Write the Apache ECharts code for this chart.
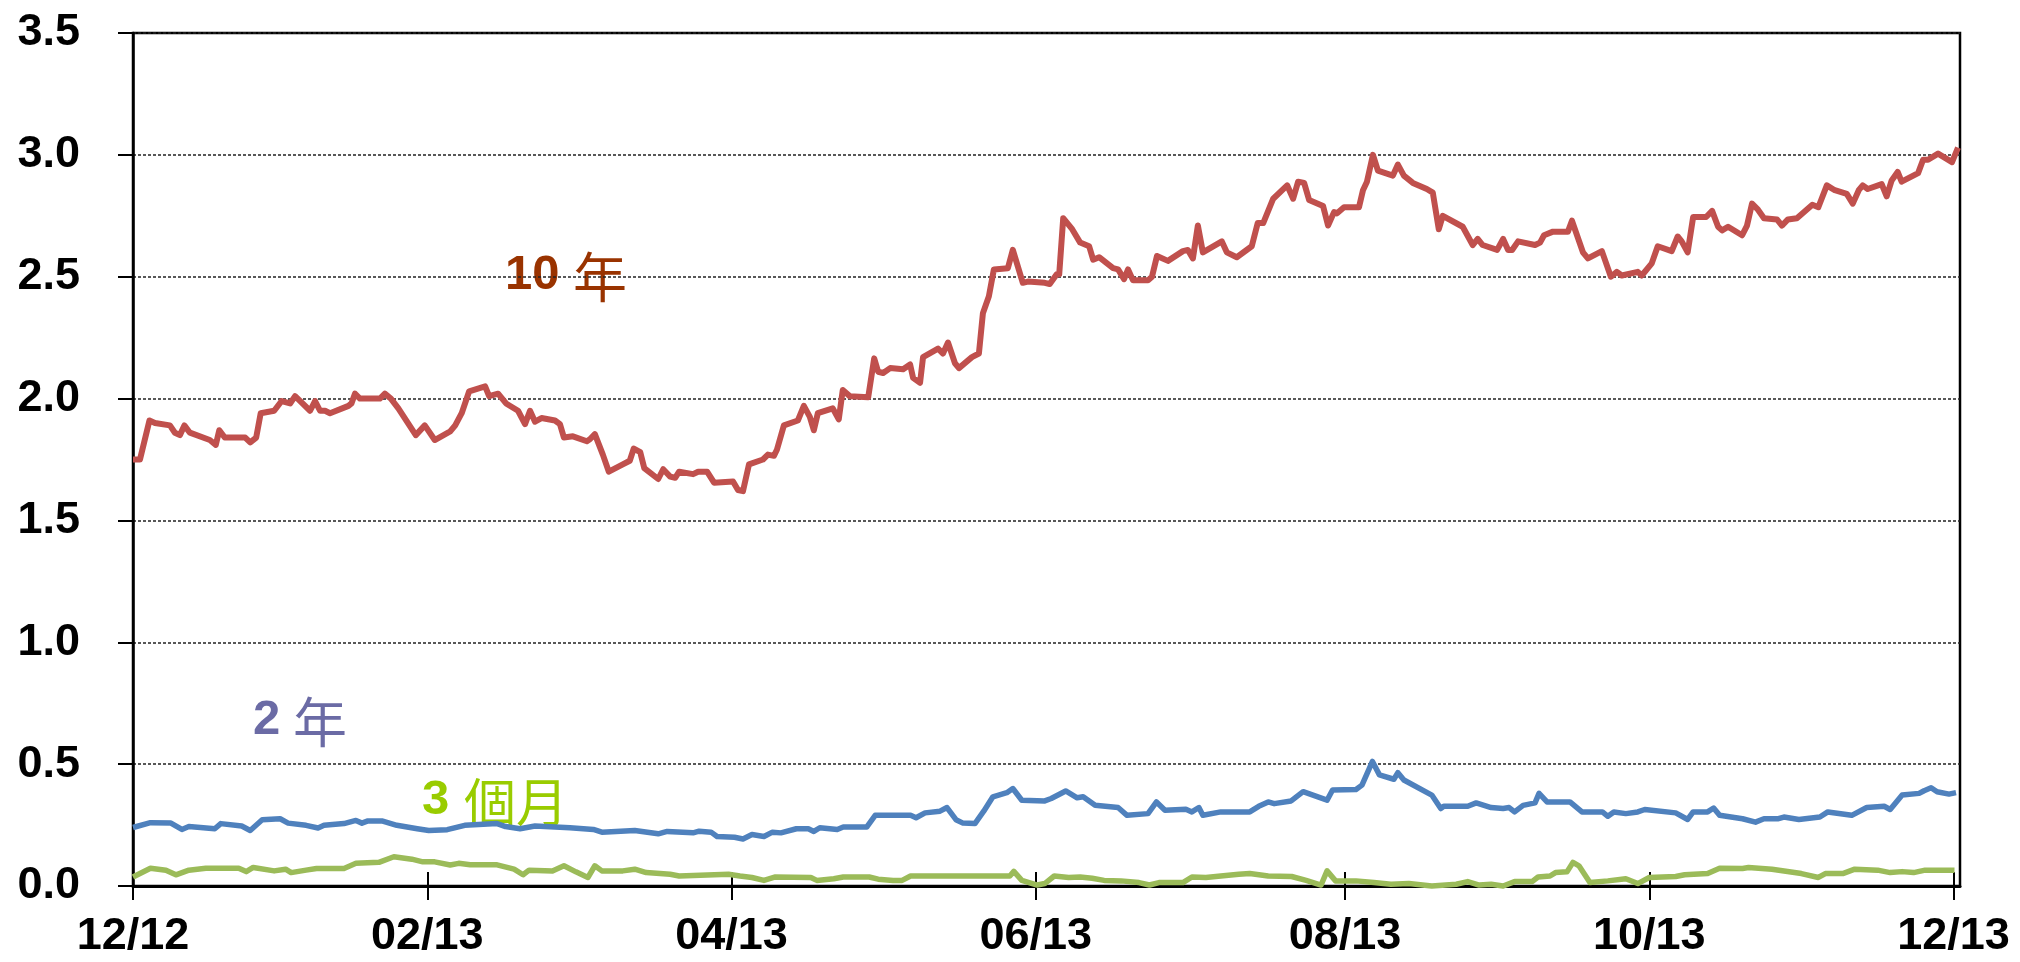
<!DOCTYPE html>
<html>
<head>
<meta charset="utf-8">
<title>US Treasury yields 2013</title>
<script src="https://cdn.jsdelivr.net/npm/echarts@6.0.0/dist/echarts.min.js"></script>
<style>
html, body { margin: 0; padding: 0; background: #fff; }
#chart { width: 2020px; height: 962px; }
</style>
</head>
<body>
<div id="chart"></div>
<script>
// x values are days after 2012-12-31
var tickLabels = ['12/12', '02/13', '04/13', '06/13', '08/13', '10/13', '12/13'];
var tickDays = [0, 59, 120, 181, 243, 304, 365];

var days10y = [
  0, 1.4, 3.3, 4.4, 7.4, 8.4, 9.4, 10.3, 11.4, 15.4,
  16.6, 17.3, 18.4, 22.5, 23.5, 24.7, 25.6, 28.3, 29.8, 31.5,
  32.5, 35.5, 36.5, 37.5, 38.5, 39.5, 43.2, 43.8, 44.5, 45.5,
  49.5, 50.5, 51.7, 53.2, 56.7, 58.5, 60.5, 63.6, 64.6, 65.9,
  67.4, 70.6, 71.4, 73.2, 74.8, 77.2, 78.6, 79.6, 80.6, 81.9,
  84.6, 85.6, 86.4, 88.2, 91.0, 91.6, 92.6, 94.2, 95.4, 98.2,
  99.6, 100.4, 101.7, 102.5, 105.3, 106.3, 107.7, 108.7, 109.5, 112.3,
  113.3, 115.1, 116.5, 120.3, 121.3, 122.3, 123.5, 126.3, 127.3, 128.5,
  129.1, 130.5, 133.3, 134.5, 135.7, 136.5, 137.3, 140.3, 141.5, 142.3,
  143.7, 147.4, 148.6, 149.4, 150.4, 151.8, 154.4, 155.8, 156.4, 157.8,
  158.4, 161.4, 162.4, 163.4, 164.8, 165.6, 168.2, 169.6, 170.4, 171.6,
  172.6, 175.4, 176.4, 178.4, 179.4, 182.8, 183.8, 185.2, 185.7, 186.5,
  188.3, 189.9, 191.7, 192.5, 193.7, 196.5, 197.5, 198.7, 199.5, 200.5,
  203.5, 204.3, 205.3, 207.5, 210.5, 211.5, 212.5, 213.5, 214.5, 218.3,
  219.3, 221.3, 224.3, 225.5, 226.6, 228.6, 231.4, 232.6, 233.6, 234.8,
  235.8, 238.6, 239.6, 240.8, 241.4, 242.8, 245.8, 246.6, 247.4, 248.6,
  249.6, 252.6, 253.6, 254.8, 256.6, 259.4, 260.6, 261.8, 262.6, 266.6,
  268.6, 269.6, 270.6, 273.5, 274.7, 275.7, 276.5, 277.7, 281.1, 282.1,
  282.9, 284.7, 287.7, 288.5, 290.7, 291.7, 294.5, 296.3, 297.5, 298.5,
  301.7, 302.5, 304.5, 305.7, 308.5, 309.7, 310.5, 311.7, 312.8, 315.4,
  316.6, 317.8, 318.6, 319.8, 322.6, 323.6, 324.6, 325.8, 327.0, 329.6,
  330.6, 331.8, 333.6, 336.7, 337.9, 339.6, 341.2, 343.6, 344.8, 346.0,
  346.8, 347.8, 350.6, 351.6, 352.6, 353.8, 354.6, 357.9, 358.9, 359.9,
  361.9, 364.7, 365.9
];
var yield10y = [
  1.75, 1.75, 1.91, 1.90, 1.89, 1.86, 1.85, 1.89, 1.86, 1.83,
  1.81, 1.87, 1.84, 1.84, 1.82, 1.84, 1.94, 1.95, 1.99, 1.98,
  2.01, 1.95, 1.99, 1.95, 1.95, 1.94, 1.97, 1.98, 2.02, 2.00,
  2.00, 2.02, 2.00, 1.96, 1.85, 1.89, 1.83, 1.865, 1.89, 1.94,
  2.03, 2.05, 2.01, 2.02, 1.98, 1.95, 1.895, 1.95, 1.905, 1.92,
  1.91, 1.895, 1.84, 1.845, 1.825, 1.833, 1.854, 1.77, 1.70, 1.73,
  1.745, 1.795, 1.78, 1.715, 1.67, 1.71, 1.68, 1.675, 1.70, 1.69,
  1.70, 1.70, 1.655, 1.66, 1.625, 1.62, 1.73, 1.75, 1.77, 1.765,
  1.79, 1.89, 1.91, 1.97, 1.925, 1.87, 1.94, 1.96, 1.915, 2.035,
  2.01, 2.005, 2.165, 2.11, 2.105, 2.125, 2.12, 2.14, 2.085, 2.065,
  2.17, 2.205, 2.185, 2.23, 2.145, 2.125, 2.17, 2.185, 2.35, 2.42,
  2.53, 2.535, 2.61, 2.475, 2.48, 2.475, 2.47, 2.51, 2.51, 2.74,
  2.695, 2.64, 2.625, 2.57, 2.58, 2.535, 2.53, 2.49, 2.53, 2.485,
  2.485, 2.50, 2.585, 2.565, 2.605, 2.61, 2.575, 2.71, 2.60, 2.645,
  2.60, 2.58, 2.625, 2.72, 2.72, 2.82, 2.875, 2.82, 2.89, 2.885,
  2.815, 2.79, 2.71, 2.765, 2.76, 2.785, 2.785, 2.855, 2.89, 3.00,
  2.935, 2.915, 2.96, 2.915, 2.885, 2.86, 2.845, 2.695, 2.75, 2.705,
  2.63, 2.655, 2.63, 2.61, 2.655, 2.61, 2.61, 2.645, 2.63, 2.64,
  2.67, 2.685, 2.685, 2.73, 2.60, 2.575, 2.605, 2.50, 2.52, 2.505,
  2.52, 2.505, 2.555, 2.625, 2.605, 2.665, 2.645, 2.60, 2.745, 2.745,
  2.77, 2.705, 2.69, 2.705, 2.67, 2.71, 2.80, 2.775, 2.74, 2.735,
  2.71, 2.735, 2.74, 2.795, 2.785, 2.875, 2.855, 2.84, 2.80, 2.855,
  2.875, 2.86, 2.88, 2.83, 2.895, 2.93, 2.89, 2.925, 2.98, 2.98,
  3.005, 2.97, 3.03
];

var days2y = [
  0, 3.5, 7.6, 9.8, 11.2, 16.4, 17.6, 21.8, 23.5, 25.9,
  29.5, 31.1, 34.7, 37.1, 38.3, 42.3, 44.7, 45.9, 47.1, 49.9,
  52.9, 57.0, 59.3, 63.0, 66.5, 73.0, 74.7, 77.6, 80.6, 87.6,
  92.3, 94.0, 100.6, 105.3, 107.1, 112.3, 113.5, 115.9, 117.1, 120.6,
  122.3, 124.1, 126.5, 128.2, 129.9, 133.0, 135.4, 136.5, 137.7, 141.2,
  142.4, 147.1, 148.8, 155.9, 157.0, 158.8, 161.8, 163.2, 165.0, 166.4,
  168.8, 170.6, 172.4, 175.2, 176.4, 178.2, 182.8, 184.1, 187.0, 189.3,
  190.5, 192.9, 197.5, 199.3, 203.5, 205.2, 206.9, 211.1, 212.3, 213.7,
  214.5, 218.1, 223.9, 225.7, 227.6, 228.8, 232.2, 234.6, 239.4, 240.5,
  245.2, 246.4, 248.5, 249.9, 252.8, 253.6, 254.8, 260.4, 262.2, 262.8,
  267.6, 269.3, 272.3, 274.7, 275.9, 277.0, 278.7, 281.1, 281.9, 283.5,
  288.1, 290.5, 294.6, 295.7, 296.9, 299.3, 301.7, 303.1, 309.3, 311.7,
  312.8, 315.7, 316.9, 318.1, 322.7, 325.3, 327.0, 329.9, 331.0, 334.0,
  338.2, 339.8, 344.6, 347.6, 351.1, 352.3, 354.7, 358.1, 359.1, 360.5,
  361.7, 364.1, 365.5
];
var yield2y = [
  0.24, 0.26, 0.258, 0.232, 0.244, 0.235, 0.256, 0.246, 0.228, 0.272,
  0.276, 0.258, 0.249, 0.238, 0.249, 0.256, 0.269, 0.258, 0.267, 0.267,
  0.249, 0.235, 0.228, 0.231, 0.249, 0.256, 0.244, 0.235, 0.246, 0.239,
  0.232, 0.221, 0.228, 0.214, 0.224, 0.218, 0.225, 0.221, 0.203, 0.200,
  0.193, 0.211, 0.203, 0.221, 0.218, 0.235, 0.235, 0.224, 0.239, 0.232,
  0.242, 0.242, 0.29, 0.29, 0.28, 0.30, 0.307, 0.322, 0.272, 0.258,
  0.256, 0.308, 0.366, 0.383, 0.40, 0.352, 0.349, 0.359, 0.39, 0.362,
  0.366, 0.331, 0.322, 0.29, 0.297, 0.345, 0.311, 0.315, 0.304, 0.322,
  0.29, 0.304, 0.304, 0.327, 0.345, 0.338, 0.349, 0.387, 0.352, 0.394,
  0.396, 0.414, 0.511, 0.456, 0.438, 0.465, 0.435, 0.373, 0.318, 0.327,
  0.327, 0.341, 0.322, 0.318, 0.322, 0.304, 0.331, 0.341, 0.38, 0.345,
  0.345, 0.304, 0.304, 0.286, 0.304, 0.297, 0.304, 0.314, 0.30, 0.273,
  0.304, 0.304, 0.32, 0.29, 0.276, 0.262, 0.276, 0.276, 0.283, 0.273,
  0.283, 0.304, 0.29, 0.322, 0.327, 0.314, 0.373, 0.38, 0.391, 0.403,
  0.387, 0.377, 0.383
];

var days3m = [
  0, 3.5, 6.6, 8.6, 11.2, 14.6, 21.2, 22.7, 24.1, 28.3,
  30.6, 31.7, 34.7, 36.8, 42.3, 44.7, 49.3, 52.3, 55.9, 58.1,
  60.5, 63.6, 65.3, 67.6, 73.0, 76.4, 78.2, 79.4, 84.1, 86.4,
  88.8, 91.2, 92.6, 94.0, 98.2, 100.6, 102.9, 107.7, 109.5, 119.4,
  121.7, 124.1, 126.5, 128.8, 135.9, 137.1, 140.5, 142.4, 147.6, 149.4,
  152.4, 154.2, 155.9, 175.8, 176.6, 178.2, 181.3, 182.8, 184.7, 187.6,
  189.9, 192.3, 194.7, 198.1, 201.7, 203.8, 205.7, 210.5, 212.3, 215.1,
  218.1, 221.7, 223.9, 227.6, 232.3, 235.2, 238.2, 239.4, 241.1, 245.2,
  248.8, 252.2, 255.8, 260.4, 265.3, 267.6, 269.9, 272.3, 274.7, 277.0,
  280.5, 281.7, 284.1, 285.2, 287.5, 288.7, 289.9, 292.1, 295.7, 299.3,
  301.7, 304.0, 309.3, 311.1, 315.7, 318.1, 322.7, 323.9, 328.6, 334.5,
  337.9, 339.3, 342.8, 345.2, 349.8, 352.3, 354.7, 357.0, 359.3, 365.2
];
var yield3m = [
  0.037, 0.073, 0.065, 0.046, 0.065, 0.073, 0.073, 0.059, 0.076, 0.062,
  0.069, 0.055, 0.065, 0.072, 0.072, 0.093, 0.097, 0.12, 0.11, 0.099,
  0.099, 0.086, 0.093, 0.087, 0.087, 0.069, 0.046, 0.065, 0.062, 0.083,
  0.058, 0.035, 0.083, 0.062, 0.062, 0.069, 0.055, 0.048, 0.041, 0.048,
  0.041, 0.035, 0.023, 0.037, 0.035, 0.023, 0.030, 0.037, 0.037, 0.028,
  0.023, 0.023, 0.041, 0.041, 0.06, 0.023, 0.004, 0.01, 0.041, 0.035,
  0.037, 0.032, 0.023, 0.021, 0.014, 0.004, 0.014, 0.014, 0.037, 0.035,
  0.041, 0.048, 0.051, 0.041, 0.039, 0.023, 0.004, 0.062, 0.021, 0.021,
  0.014, 0.007, 0.01, 0.0, 0.007, 0.018, 0.004, 0.007, 0.0, 0.018,
  0.018, 0.037, 0.041, 0.055, 0.058, 0.097, 0.083, 0.014, 0.021, 0.03,
  0.01, 0.035, 0.039, 0.046, 0.051, 0.073, 0.072, 0.076, 0.069, 0.051,
  0.035, 0.051, 0.051, 0.069, 0.065, 0.055, 0.059, 0.055, 0.065, 0.065
];

window.onload = function() {
  drawChart();
}

function
pairs(xs, ys) {
  var out = [];
  for (var i = 0; i < xs.length; i++) {
    out.push([xs[i], ys[i]]);
  }
  return out;
}

function
lineSeries(name, xs, ys, color, width) {
  return {
    name: name,
    type: 'line',
    data: pairs(xs, ys),
    showSymbol: false,
    symbol: 'none',
    clip: false,
    lineStyle: {color: color, width: width, join: 'round'}
  };
}

function
drawChart() {
  var chart = echarts.init(document.getElementById('chart'));
  var labelFont = {
    fontFamily: '"Liberation Sans", Arial, sans-serif',
    fontWeight: 'bold',
    fontSize: 45,
    color: '#000'
  };
  var numFont = '"Liberation Sans", Arial, sans-serif';
  var cjkFont = '"Noto Sans CJK TC", "Noto Sans CJK SC", sans-serif';

  var option = {
    animation: false,
    backgroundColor: '#fff',
    grid: {
      left: 133,
      right: 60,
      top: 33,
      bottom: 76,
      show: true,
      borderColor: '#000',
      borderWidth: 2.5
    },
    xAxis: [{
      type: 'value',
      min: 0,
      max: 366.3,
      position: 'bottom',
      splitLine: {show: false},
      axisLine: {show: true, lineStyle: {color: '#000', width: 3}},
      axisTick: {
        show: true,
        length: 14,
        customValues: tickDays,
        lineStyle: {color: '#000', width: 2}
      },
      axisLabel: Object.assign({
        margin: 28,
        customValues: tickDays,
        formatter: function(v) {
          var i = tickDays.indexOf(Math.round(v));
          return i >= 0 ? tickLabels[i] : '';
        }
      }, labelFont)
    }, {
      type: 'value',
      min: 0,
      max: 366.3,
      position: 'bottom',
      splitLine: {show: false},
      axisLine: {show: false},
      axisLabel: {show: false},
      axisTick: {
        show: true,
        inside: true,
        length: 14,
        customValues: tickDays,
        lineStyle: {color: '#000', width: 2}
      }
    }],
    yAxis: {
      type: 'value',
      min: 0,
      max: 3.5,
      interval: 0.5,
      axisLine: {show: true, lineStyle: {color: '#000', width: 2.5}},
      axisTick: {show: true, length: 15, lineStyle: {color: '#000', width: 2}},
      axisLabel: Object.assign({
        margin: 53,
        formatter: function(v) {
          return v.toFixed(1);
        }
      }, labelFont),
      splitLine: {
        show: true,
        lineStyle: {color: '#222', width: 1.6, type: [3, 2]}
      }
    },
    series: [
      lineSeries('10年', days10y, yield10y, '#C0504D', 6),
      lineSeries('2年', days2y, yield2y, '#4F81BD', 5.5),
      lineSeries('3個月', days3m, yield3m, '#9BBB59', 5.5)
    ],
    graphic: [
      {type: 'text', x: 505, y: 275, style: {text: '10', font: 'bold 49px ' + numFont, fill: '#993300', verticalAlign: 'middle'}},
      {type: 'text', x: 573, y: 277, style: {text: '年', font: '54px ' + cjkFont, fill: '#993300', verticalAlign: 'middle'}},
      {type: 'text', x: 253, y: 720, style: {text: '2', font: 'bold 49px ' + numFont, fill: '#6B6BA5', verticalAlign: 'middle'}},
      {type: 'text', x: 293, y: 722, style: {text: '年', font: '54px ' + cjkFont, fill: '#6B6BA5', verticalAlign: 'middle'}},
      {type: 'text', x: 422, y: 800, style: {text: '3', font: 'bold 49px ' + numFont, fill: '#99CC00', verticalAlign: 'middle'}},
      {type: 'text', x: 464, y: 802, style: {text: '個月', font: '52px ' + cjkFont, fill: '#99CC00', verticalAlign: 'middle'}}
    ]
  };

  chart.setOption(option);
}
</script>
</body>
</html>
